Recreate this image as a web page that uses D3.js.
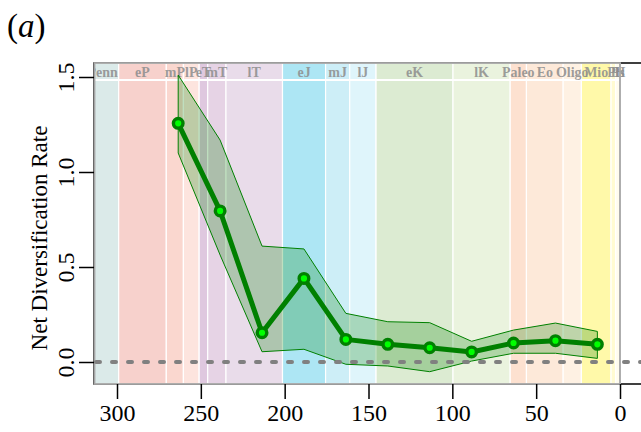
<!DOCTYPE html>
<html>
<head>
<meta charset="utf-8">
<script src="https://cdn.jsdelivr.net/npm/d3@7"></script>
<style>
  body { margin: 0; background: #fff; }
  svg text { font-family: "Liberation Serif", "Times New Roman", serif; }
</style>
</head>
<body>
<script>
// size of the picture
var w = 641;
var h = 432;

// geologic intervals (Ma), labels and colours
var bandStart = [318.1, 299.0, 270.6, 260.4, 251.0, 245.9, 235.0, 201.3, 175.6, 161.2, 145.5, 99.6, 65.5, 55.8, 33.9, 23.03, 5.332, 2.588, 0.0117];
var bandEnd   = [299.0, 270.6, 260.4, 251.0, 245.9, 235.0, 201.3, 175.6, 161.2, 145.5, 99.6, 65.5, 55.8, 33.9, 23.03, 5.332, 2.588, 0.0117, 0];
var bandLabel = ["Penn", "eP", "mP", "lP", "eT", "mT", "lT", "eJ", "mJ", "lJ", "eK", "lK", "Paleo", "Eo", "Oligo", "Mio", "Pl", "Ps", "H"];
var bandColor = ["#dbeae9", "#f7d1cc", "#fad7cf", "#fde4de", "#dfc8df", "#e6d3e5", "#e9dcea", "#ade6f4", "#cdeef7", "#dff5fb",
                 "#dcebd2", "#eaf3de", "#fde1d0", "#fde9d9", "#fef1e3", "#fff9a9", "#fffbd2", "#fffcee", "#ffffff"];

// diversification rates per time bin
var binAge   = [263.5, 238.5, 213.5, 188.5, 163.5, 138.5, 113.5, 88.5, 63.5, 38.5, 13.5];
var rateMid  = [1.256, 0.795, 0.154, 0.440, 0.119, 0.093, 0.075, 0.053, 0.100, 0.112, 0.093];
var rateHigh = [1.510, 1.168, 0.610, 0.595, 0.256, 0.212, 0.207, 0.109, 0.168, 0.205, 0.161];
var rateLow  = [1.100, 0.563, 0.054, 0.067, -0.012, -0.021, -0.051, 0.005, 0.046, 0.046, 0.019];

var xTicks = [300, 250, 200, 150, 100, 50, 0];
var yTicks = [0, 0.5, 1.0, 1.5];

// plot frame (pixels)
var boxLeft = 94, boxTop = 63, boxBottom = 384, stripY = 80;

var xScale = d3.scaleLinear().domain([300, 0]).range([117, 620]);
var yScale = d3.scaleLinear().domain([0, 1.5]).range([362, 77]);

var svg = d3.select("body").append("svg")
            .attr("width", w)
            .attr("height", h);

svg.append("defs").append("clipPath").attr("id", "box")
   .append("rect")
   .attr("x", boxLeft + 1).attr("y", boxTop)
   .attr("width", w - boxLeft).attr("height", boxBottom - boxTop);

// black R-style frame, runs off the right edge
svg.append("rect")
   .attr("x", boxLeft).attr("y", boxTop)
   .attr("width", 700).attr("height", boxBottom - boxTop)
   .attr("fill", "none")
   .attr("stroke", "#000")
   .attr("stroke-width", 1.5);

var bands = bandLabel.map(function(d, i) {
  return { label: d, start: bandStart[i], end: bandEnd[i], color: bandColor[i] };
});

var geo = svg.append("g").attr("clip-path", "url(#box)");

geo.selectAll("rect.band")
   .data(bands)
   .enter()
   .append("rect")
   .attr("class", "band")
   .attr("x", function(d) { return xScale(d.start); })
   .attr("y", boxTop)
   .attr("width", function(d) { return xScale(d.end) - xScale(d.start); })
   .attr("height", boxBottom - boxTop)
   .attr("fill", function(d) { return d.color; })
   .attr("stroke", "#fff")
   .attr("stroke-width", 1.2);

// line under the label strip
geo.append("line")
   .attr("x1", boxLeft).attr("x2", xScale(0))
   .attr("y1", stripY).attr("y2", stripY)
   .attr("stroke", "#fff")
   .attr("stroke-width", 2);

// gray box of the time scale
svg.append("rect")
   .attr("x", boxLeft + 0.5).attr("y", boxTop)
   .attr("width", xScale(0) - boxLeft - 0.5).attr("height", boxBottom - boxTop)
   .attr("fill", "none")
   .attr("stroke", "#a6a6a6")
   .attr("stroke-width", 1.8);

// interval labels, centred on the whole interval (the first one is cut by the box)
geo.selectAll("text.band")
   .data(bands)
   .enter()
   .append("text")
   .attr("class", "band")
   .text(function(d) { return d.label; })
   .attr("text-anchor", "middle")
   .attr("x", function(d) { return (xScale(d.start) + xScale(d.end)) / 2; })
   .attr("y", 77)
   .attr("font-size", "14px")
   .attr("font-weight", "bold")
   .attr("fill", "#8c8c8c")
   .attr("fill-opacity", 0.85);

// confidence ribbon
var pts = binAge.map(function(d, i) {
  return { age: d, mid: rateMid[i], hi: rateHigh[i], lo: rateLow[i] };
});

var ribbon = d3.area()
  .x(function(d) { return xScale(d.age); })
  .y0(function(d) { return yScale(d.lo); })
  .y1(function(d) { return yScale(d.hi); });

svg.append("path")
   .datum(pts)
   .attr("d", ribbon)
   .attr("fill", "rgb(0,128,0)")
   .attr("fill-opacity", 0.25)
   .attr("stroke", "#008000")
   .attr("stroke-width", 1);

// zero line
svg.append("line")
   .attr("x1", boxLeft + 2).attr("x2", w)
   .attr("y1", yScale(0)).attr("y2", yScale(0))
   .attr("stroke", "#808080")
   .attr("stroke-width", 4)
   .attr("stroke-linecap", "round")
   .attr("stroke-dasharray", "4,12");

var line = d3.line()
  .x(function(d) { return xScale(d.age); })
  .y(function(d) { return yScale(d.mid); });

svg.append("path")
   .datum(pts)
   .attr("d", line)
   .attr("fill", "none")
   .attr("stroke", "#008000")
   .attr("stroke-width", 5)
   .attr("stroke-linejoin", "round");

svg.selectAll("circle")
   .data(pts)
   .enter()
   .append("circle")
   .attr("cx", function(d) { return xScale(d.age); })
   .attr("cy", function(d) { return yScale(d.mid); })
   .attr("r", 4.8)
   .attr("fill", "#00ff00")
   .attr("stroke", "#008000")
   .attr("stroke-width", 3.4);

// axes
var xAxis = svg.append("g")
   .attr("transform", "translate(0," + boxBottom + ")")
   .call(d3.axisBottom(xScale).tickValues(xTicks).tickSize(15).tickSizeOuter(0).tickPadding(5).tickFormat(d3.format("d")));
xAxis.select(".domain").remove();
xAxis.selectAll("line").attr("stroke", "#000").attr("stroke-width", 1.5);
xAxis.selectAll("text").attr("font-size", "24px").attr("fill", "#000")
     .style("font-family", "'Liberation Serif', 'Times New Roman', serif");

var yAxis = svg.append("g")
   .attr("transform", "translate(" + boxLeft + ",0)")
   .call(d3.axisLeft(yScale).tickValues(yTicks).tickSize(15).tickSizeOuter(0).tickFormat(d3.format(".1f")));
yAxis.select(".domain").remove();
yAxis.selectAll("line").attr("stroke", "#000").attr("stroke-width", 1.5);
yAxis.selectAll("text")
     .attr("x", 0).attr("y", 0).attr("dy", null)
     .attr("transform", "translate(-20,0) rotate(-90)")
     .attr("text-anchor", "middle")
     .attr("font-size", "24px").attr("fill", "#000")
     .style("font-family", "'Liberation Serif', 'Times New Roman', serif");

svg.append("text")
   .text("Net Diversification Rate")
   .attr("transform", "translate(47,238) rotate(-90)")
   .attr("text-anchor", "middle")
   .attr("font-size", "23px")
   .attr("fill", "#000");

var tag = svg.append("text")
   .attr("x", 7).attr("y", 37)
   .attr("font-size", "33px")
   .attr("fill", "#000");
tag.append("tspan").text("(");
tag.append("tspan").text("a").attr("font-style", "italic");
tag.append("tspan").text(")");
</script>
</body>
</html>
